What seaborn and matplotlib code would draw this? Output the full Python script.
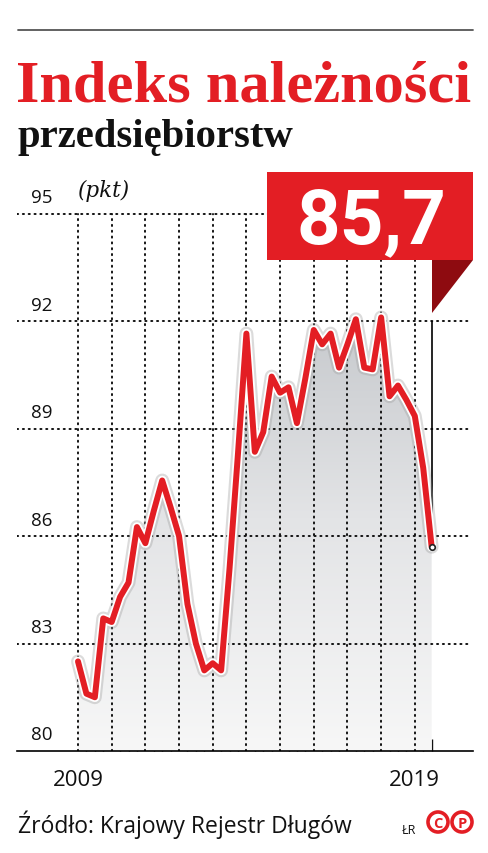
import numpy as np
import pandas as pd
import matplotlib
matplotlib.use("Agg")
import matplotlib.pyplot as plt
import seaborn as sns
from matplotlib import patheffects as pe
from matplotlib.patches import Rectangle, Polygon, Ellipse
from matplotlib.lines import Line2D
from matplotlib.colors import LinearSegmentedColormap
import matplotlib.transforms as mtransforms

# ---------------- data ----------------
quarter_labels = [f"{y}Q{q}" for y in range(2009, 2020) for q in range(1, 5)][:43]
index_values = [82.5, 81.6, 81.5, 83.7, 83.6, 84.3, 84.7, 86.25, 85.8, 86.7,
                87.55, 86.8, 86.0, 84.1, 83.0, 82.25, 82.45, 82.25, 85.1, 88.3,
                91.65, 88.35, 88.9, 90.45, 90.0, 90.15, 89.15, 90.4, 91.75, 91.35,
                91.65, 90.7, 91.35, 92.05, 90.7, 90.65, 92.1, 89.9, 90.2, 89.8,
                89.35, 87.9, 85.7]
y_ticks = [80, 83, 86, 89, 92, 95]
year_labels = ["2009", "2019"]
grid_years = list(range(2009, 2020))
title = "Indeks należności"
subtitle = "przedsiębiorstw"
unit = "(pkt)"
callout = "85,7"
source = "Źródło: Krajowy Rejestr Długów"

df = pd.DataFrame({"quarter": pd.PeriodIndex(quarter_labels, freq="Q"),
                   "value": index_values})
df["t"] = df["quarter"].dt.year + (df["quarter"].dt.quarter - 1) / 4.0

RED = "#E31E24"
DARK_RED = "#8E0B10"

sns.set_theme(style="white")
plt.rcParams["font.family"] = ["Open Sans", "DejaVu Sans"]

W, H = 488, 854
fig = plt.figure(figsize=(W / 100, H / 100), dpi=100)
fx = lambda x: x / W
fy = lambda y: 1 - y / H

# axes geometry (pixels)
px_per_pt = 35.83
x_left_px, x_right_px = 17, 473
y_bot_px = 752
y_top_px = y_bot_px - 16 * px_per_pt
ax = fig.add_axes([fx(x_left_px), fy(y_bot_px), (x_right_px - x_left_px) / W,
                   (y_bot_px - y_top_px) / H])
ax.set_facecolor("none")
px_per_year = 8.42 * 4
xmin = 2009 - (78 - x_left_px) / px_per_year
xmax = 2009 + (x_right_px - 78) / px_per_year

# gradient fill under the line
poly = ax.fill_between(df["t"], df["value"], 80, color="none", zorder=1)
cmap = LinearSegmentedColormap.from_list("g", ["#f7f7f7", "#e3e4e6", "#c2c5c9"])
grad = np.linspace(0, 1, 256).reshape(-1, 1)
im = ax.imshow(grad, extent=[df["t"].iloc[0], df["t"].iloc[-1], 80, 93],
               aspect="auto", cmap=cmap, origin="lower", zorder=1)
im.set_clip_path(poly.get_paths()[0], transform=ax.transData)

# dotted grid
dot = dict(color="#111111", linewidth=1.4, linestyle=(0, (0.6, 2.4)),
           capstyle="round", zorder=2)
ax.hlines([v for v in y_ticks if v > 80], xmin, xmax - 0.08, **dot)
ax.vlines(grid_years, 80, 95, **dot)

# main line
sns.lineplot(data=df, x="t", y="value", ax=ax, color=RED, linewidth=4.3,
             zorder=4, solid_joinstyle="round", solid_capstyle="round")
line = ax.lines[-1]
line.set_path_effects([pe.Stroke(linewidth=10, foreground="#9a9a9a", alpha=0.35),
                       pe.Stroke(linewidth=6.9, foreground="white"),
                       pe.Normal()])

# pointer line and last point
last_t, last_v = df["t"].iloc[-1], df["value"].iloc[-1]
ax.vlines(last_t, last_v, 92, color="black", linewidth=1.2, zorder=3)
ax.scatter([last_t], [last_v], s=16, facecolor="white", edgecolor="#222222",
           linewidth=1.2, zorder=6)

ax.set_xlim(xmin, xmax)
ax.set_ylim(80, 96)
ax.set_xlabel("")
ax.set_ylabel("")
for s in ["top", "left", "right"]:
    ax.spines[s].set_visible(False)
ax.spines["bottom"].set_color("black")
ax.spines["bottom"].set_linewidth(1.2)
ax.set_yticks([])
ax.set_xticks([int(y) for y in year_labels])
ax.set_xticklabels(year_labels, fontsize=16, color="#111111")
minor = [t for t in df["t"] if abs(t - round(t)) > 1e-6]
ax.set_xticks(minor, minor=True)
ax.tick_params(axis="x", which="major", length=0, pad=13)
ax.tick_params(axis="x", which="minor", direction="in", length=8.5, width=1.0,
               color="#111111", bottom=True)

# y labels above gridlines
trans = mtransforms.blended_transform_factory(ax.transAxes, ax.transData)
for v in y_ticks:
    ax.text((31 - x_left_px) / (x_right_px - x_left_px), v + 11.5 / px_per_pt,
            str(v), transform=trans, fontsize=13.5, color="#111111",
            va="baseline", ha="left")

# titles
fig.add_artist(Line2D([fx(18), fx(473)], [fy(31), fy(31)], color="#555555", lw=1.3))
fig.text(fx(16), fy(102), title, family=["Liberation Serif", "DejaVu Serif"],
         weight="bold", fontsize=43.5, color=RED, va="baseline")
fig.text(fx(17), fy(147), subtitle, family=["Liberation Serif", "DejaVu Serif"],
         weight="bold", fontsize=29.3, color="#111111", va="baseline")
fig.text(fx(77), fy(197), unit, family=["DejaVu Serif"],
         style="italic", fontsize=15.5, color="#111111", va="baseline")

# callout
fig.add_artist(Rectangle((fx(267), fy(261)), (473 - 267) / W, (261 - 173) / H,
                         transform=fig.transFigure, facecolor=RED, edgecolor="none",
                         zorder=5))
fig.add_artist(Polygon([(fx(432), fy(261)), (fx(473), fy(261)), (fx(432), fy(314))],
                       closed=True, transform=fig.transFigure, facecolor=DARK_RED,
                       edgecolor="none", zorder=5))
fig.text(fx(371), fy(243), callout, family=["Roboto", "DejaVu Sans"], weight="bold",
         fontsize=55, color="white", ha="center", va="baseline", zorder=6)

# footer
fig.text(fx(18), fy(833), source, fontsize=16.5, color="#111111", va="baseline")
fig.text(fx(402), fy(834), "ŁR", fontsize=9, color="#111111", va="baseline")
for cx, ch in [(438, "C"), (462, "P")]:
    fig.add_artist(Ellipse((fx(cx), fy(823)), 20 / W, 20 / H, transform=fig.transFigure,
                           fill=False, edgecolor=RED, linewidth=2.6, zorder=5))
    fig.text(fx(cx), fy(823), ch, fontsize=10.5, weight="bold", color=RED,
             ha="center", va="center_baseline", zorder=6)

fig.savefig("out.png", dpi=100)
